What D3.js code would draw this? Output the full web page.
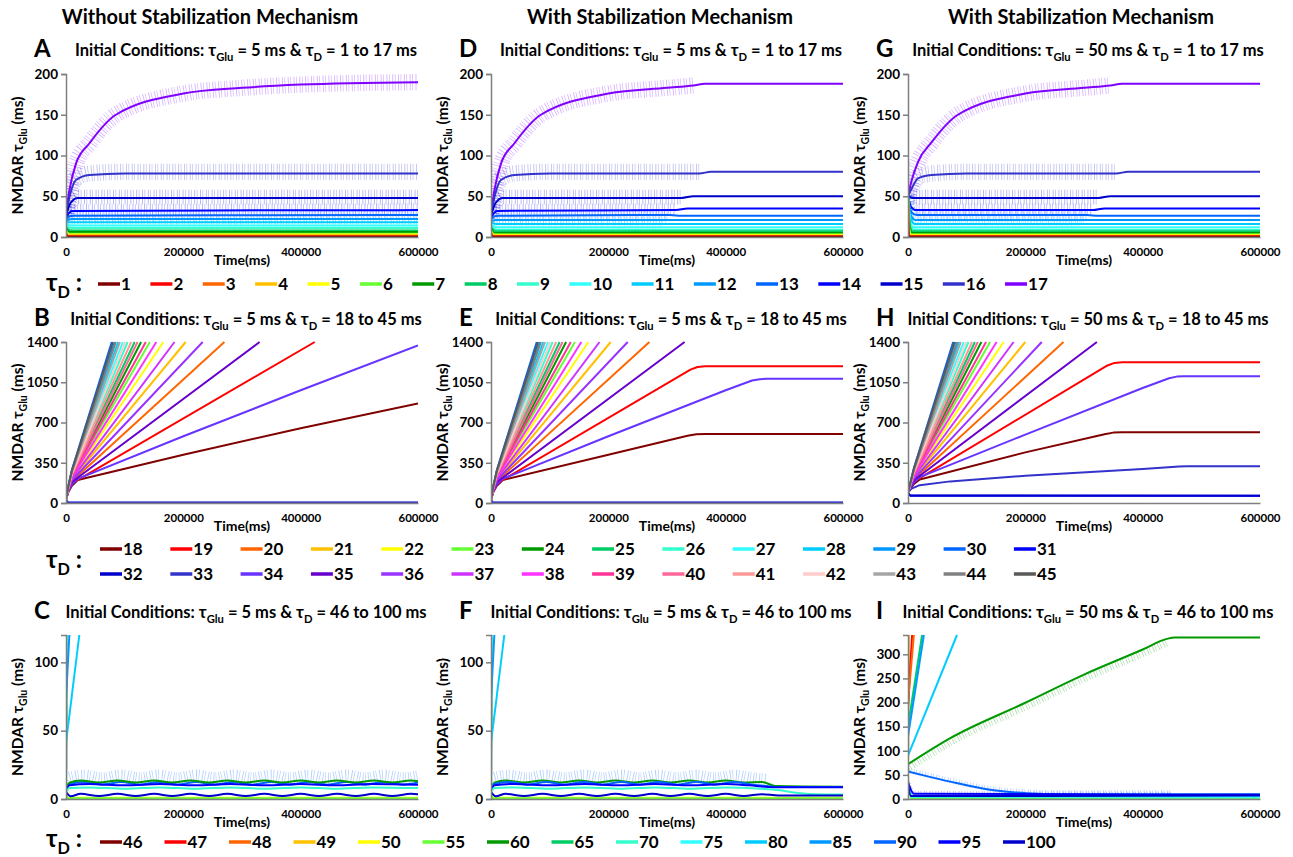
<!DOCTYPE html>
<html>
<head>
<meta charset="utf-8">
<script src="https://cdn.jsdelivr.net/npm/d3@7"></script>
<style>
  body { margin: 0; background: #fff; }
  text { font-family: Lato, "Open Sans", sans-serif; font-weight: bold; fill: #000; white-space: pre; }
</style>
</head>
<body>
<svg id="fig" width="1293" height="857"></svg>
<script>
// legend rows: tau_D values and their colours
const tauRow1 = [1, 2, 3, 4, 5, 6, 7, 8, 9, 10, 11, 12, 13, 14, 15, 16, 17];
const colorsRow1 = ["#800000", "#ff0000", "#ff6600", "#ffc000", "#ffff00", "#66ff33", "#009900", "#00cc66",
  "#33ffcc", "#33ffff", "#00ccff", "#0099ff", "#0066ff", "#0000ff", "#0000cc", "#3333cc", "#7f00ff"];
const tauRow2 = [18, 19, 20, 21, 22, 23, 24, 25, 26, 27, 28, 29, 30, 31, 32, 33, 34, 35, 36, 37, 38, 39, 40, 41, 42, 43, 44, 45];
const colorsRow2 = ["#800000", "#ff0000", "#ff6600", "#ffc000", "#ffff00", "#66ff33", "#009900", "#00cc66",
  "#33ffcc", "#33ffff", "#00ccff", "#0099ff", "#0066ff", "#0000ff", "#0000cc", "#3333cc", "#6633ff", "#6600cc",
  "#9933ff", "#cc33ff", "#ff33ff", "#ff3399", "#ff6699", "#ff9999", "#ffcccc", "#a6a6a6", "#808080", "#595959"];
const tauRow3 = [46, 47, 48, 49, 50, 55, 60, 65, 70, 75, 80, 85, 90, 95, 100];
const colorsRow3 = ["#800000", "#ff0000", "#ff6600", "#ffc000", "#ffff00", "#66ff33", "#009900", "#00cc66",
  "#33ffcc", "#33ffff", "#00ccff", "#0099ff", "#0066ff", "#0000ff", "#0000cc"];

const timeTicks = [0, 200000, 400000, 600000];
const yTicksRow1 = [0, 50, 100, 150, 200];
const yTicksRow2 = [0, 350, 700, 1050, 1400];
const yTicksCF = [0, 50, 100];
const yTicksI = [0, 50, 100, 150, 200, 250, 300];
const columnTitles = ["Without Stabilization Mechanism", "With Stabilization Mechanism", "With Stabilization Mechanism"];

// ---- row 1 : tau_D 1..17 ----
const seriesA = [
  { tau: 17, pts: [[0, 30], [5700, 57], [17000, 90], [40000, 115], [85000, 150], [200000, 176], [300000, 183], [400000, 187], [600000, 190]], noise: [-10, 10], noiseTo: 600000 },
  { tau: 16, pts: [[0, 28], [8000, 55], [17000, 70], [40000, 76], [100000, 78], [600000, 78]], noise: [-8, 12], noiseTo: 600000 },
  { tau: 15, pts: [[0, 26], [8000, 42], [20000, 48], [600000, 48]], noise: [-8, 10], noiseTo: 600000 },
  { tau: 14, pts: [[0, 24], [10000, 32], [600000, 33]], noise: [-7, 8], noiseTo: 600000 },
  { tau: 13, pts: [[0, 22], [10000, 26], [600000, 27]], noise: [-6, 6], noiseTo: 600000 },
  { tau: 12, pts: [[0, 20], [10000, 22], [600000, 22]], noise: [-5, 5], noiseTo: 600000 },
  { tau: 11, pts: [[0, 18], [10000, 18], [600000, 18]], noise: [-4, 4], noiseTo: 600000 },
  { tau: 10, pts: [[0, 16], [10000, 14], [600000, 14]], noise: [-3, 3], noiseTo: 600000 },
  { tau: 9, pts: [[0, 14], [10000, 11], [600000, 11]], noise: [-2, 2], noiseTo: 600000 },
  { tau: 8, pts: [[0, 12], [8000, 8], [600000, 8]], noise: [-2, 2], noiseTo: 600000 },
  { tau: 7, pts: [[0, 10], [6000, 6], [600000, 6]], noise: [-1.5, 1.5], noiseTo: 600000 },
  { tau: 6, pts: [[0, 8], [5000, 4], [600000, 4]], noise: [-1, 1], noiseTo: 600000 },
  { tau: 5, pts: [[0, 7], [5000, 3], [600000, 3]] },
  { tau: 4, pts: [[0, 6], [4000, 2], [600000, 2]] },
  { tau: 3, pts: [[0, 5], [3000, 1], [600000, 1]] },
  { tau: 2, pts: [[0, 5], [2000, 0.6], [600000, 0.6]] },
  { tau: 1, pts: [[0, 5], [1000, 0.2], [600000, 0.2]] }
];
const seriesD = [
  { tau: 17, pts: [[0, 30], [5700, 57], [17000, 90], [40000, 115], [85000, 150], [200000, 176], [300000, 183], [345000, 186], [365000, 188], [600000, 188]], noise: [-10, 10], noiseTo: 345000 },
  { tau: 16, pts: [[0, 28], [8000, 55], [17000, 70], [40000, 76], [100000, 78], [355000, 78], [375000, 80], [600000, 80]], noise: [-8, 12], noiseTo: 355000 },
  { tau: 15, pts: [[0, 26], [8000, 42], [20000, 48], [325000, 48], [345000, 50], [600000, 50]], noise: [-8, 10], noiseTo: 325000 },
  { tau: 14, pts: [[0, 24], [10000, 32], [315000, 33], [335000, 35], [600000, 35]], noise: [-7, 8], noiseTo: 315000 },
  { tau: 13, pts: [[0, 22], [10000, 26], [305000, 27], [325000, 26], [600000, 26]], noise: [-6, 6], noiseTo: 305000 },
  { tau: 12, pts: [[0, 20], [10000, 21], [300000, 21], [600000, 21]], noise: [-5, 5], noiseTo: 300000 },
  { tau: 11, pts: [[0, 18], [10000, 16], [295000, 16], [600000, 16]], noise: [-4, 4], noiseTo: 295000 },
  { tau: 10, pts: [[0, 16], [10000, 12], [290000, 12], [600000, 12]], noise: [-3, 3], noiseTo: 290000 },
  { tau: 9, pts: [[0, 14], [10000, 9], [285000, 9], [600000, 9]], noise: [-2, 2], noiseTo: 285000 },
  { tau: 8, pts: [[0, 12], [8000, 7], [280000, 7], [600000, 7]], noise: [-2, 2], noiseTo: 280000 },
  { tau: 7, pts: [[0, 10], [6000, 5], [280000, 5], [600000, 5]], noise: [-1.5, 1.5], noiseTo: 280000 },
  { tau: 6, pts: [[0, 8], [5000, 3.5], [600000, 3.5]] },
  { tau: 5, pts: [[0, 7], [5000, 2.5], [600000, 2.5]] },
  { tau: 4, pts: [[0, 6], [4000, 1.5], [600000, 1.5]] },
  { tau: 3, pts: [[0, 5], [3000, 1], [600000, 1]] },
  { tau: 2, pts: [[0, 5], [2000, 0.6], [600000, 0.6]] },
  { tau: 1, pts: [[0, 5], [1000, 0.2], [600000, 0.2]] }
];
const seriesG = [
  { tau: 17, pts: [[0, 50], [5700, 68], [17000, 92], [40000, 116], [85000, 150], [200000, 176], [300000, 183], [345000, 186], [365000, 188], [600000, 188]], noise: [-10, 10], noiseTo: 345000 },
  { tau: 16, pts: [[0, 50], [8000, 62], [17000, 72], [40000, 76], [100000, 78], [355000, 78], [375000, 80], [600000, 80]], noise: [-8, 12], noiseTo: 355000 },
  { tau: 15, pts: [[0, 50], [8000, 48], [20000, 48], [325000, 48], [345000, 50], [600000, 50]], noise: [-8, 10], noiseTo: 325000 },
  { tau: 14, pts: [[0, 50], [6000, 36], [15000, 33], [315000, 33], [335000, 35], [600000, 35]], noise: [-7, 8], noiseTo: 315000 },
  { tau: 13, pts: [[0, 50], [6000, 30], [15000, 27], [305000, 27], [325000, 26], [600000, 26]], noise: [-6, 6], noiseTo: 305000 },
  { tau: 12, pts: [[0, 50], [5000, 26], [12000, 21], [300000, 21], [600000, 21]], noise: [-5, 5], noiseTo: 300000 },
  { tau: 11, pts: [[0, 50], [5000, 22], [12000, 16], [295000, 16], [600000, 16]], noise: [-4, 4], noiseTo: 295000 },
  { tau: 10, pts: [[0, 50], [4000, 18], [10000, 12], [290000, 12], [600000, 12]], noise: [-3, 3], noiseTo: 290000 },
  { tau: 9, pts: [[0, 50], [4000, 15], [10000, 9], [285000, 9], [600000, 9]], noise: [-2, 2], noiseTo: 285000 },
  { tau: 8, pts: [[0, 50], [3000, 14], [8000, 7], [280000, 7], [600000, 7]], noise: [-2, 2], noiseTo: 280000 },
  { tau: 7, pts: [[0, 50], [3000, 12], [6000, 5], [280000, 5], [600000, 5]], noise: [-1.5, 1.5], noiseTo: 280000 },
  { tau: 6, pts: [[0, 50], [2500, 10], [5000, 3.5], [600000, 3.5]] },
  { tau: 5, pts: [[0, 50], [2000, 8], [4000, 2.5], [600000, 2.5]] },
  { tau: 4, pts: [[0, 50], [1500, 6], [3000, 1.5], [600000, 1.5]] },
  { tau: 3, pts: [[0, 50], [1200, 4], [2500, 1], [600000, 1]] },
  { tau: 2, pts: [[0, 50], [1000, 3], [2000, 0.6], [600000, 0.6]] },
  { tau: 1, pts: [[0, 50], [800, 2], [1500, 0.2], [600000, 0.2]] }
];

// ---- row 2 : tau_D 18..45 ----
// fast-growing lines, identical in B and E (they leave the plot before the stabilisation kicks in)
const steepBE = [
  { tau: 20, pts: [[0, 30], [4000, 110], [10000, 190], [270000, 1400]] },
  { tau: 21, pts: [[0, 30], [4000, 115], [10000, 205], [204000, 1400]] },
  { tau: 22, pts: [[0, 30], [4000, 120], [10000, 220], [166000, 1400]] },
  { tau: 23, pts: [[0, 30], [4000, 125], [10000, 230], [143000, 1400]] },
  { tau: 24, pts: [[0, 30], [4000, 128], [10000, 238], [128000, 1400]] },
  { tau: 25, pts: [[0, 30], [4000, 131], [10000, 246], [117000, 1400]] },
  { tau: 26, pts: [[0, 30], [4000, 134], [10000, 254], [105000, 1400]] },
  { tau: 27, pts: [[0, 30], [4000, 137], [10000, 262], [97000, 1400]] },
  { tau: 28, pts: [[0, 30], [4000, 140], [10000, 270], [89000, 1400]] },
  { tau: 29, pts: [[0, 30], [4000, 143], [10000, 278], [83000, 1400]] },
  { tau: 30, pts: [[0, 30], [4000, 146], [10000, 286], [78000, 1400]] },
  { tau: 31, pts: [[0, 25], [3000, 2], [600000, 2]] },
  { tau: 32, pts: [[0, 25], [3000, 2], [600000, 2]] },
  { tau: 33, pts: [[0, 25], [3000, 3], [600000, 3]] },
  { tau: 35, pts: [[0, 30], [4000, 108], [10000, 182], [330000, 1400]] },
  { tau: 36, pts: [[0, 30], [4000, 112], [10000, 198], [233000, 1400]] },
  { tau: 37, pts: [[0, 30], [4000, 118], [10000, 212], [185000, 1400]] },
  { tau: 38, pts: [[0, 30], [4000, 122], [10000, 225], [154000, 1400]] },
  { tau: 39, pts: [[0, 30], [4000, 126], [10000, 234], [136000, 1400]] },
  { tau: 40, pts: [[0, 30], [4000, 130], [10000, 242], [122000, 1400]] },
  { tau: 41, pts: [[0, 30], [4000, 133], [10000, 250], [111000, 1400]] },
  { tau: 42, pts: [[0, 30], [4000, 136], [10000, 258], [101000, 1400]] },
  { tau: 43, pts: [[0, 30], [4000, 139], [10000, 266], [92000, 1400]] },
  { tau: 44, pts: [[0, 30], [4000, 142], [10000, 274], [85000, 1400]] },
  { tau: 45, pts: [[0, 30], [4000, 145], [10000, 282], [80000, 1400]] }
];
const slowB = [
  { tau: 18, pts: [[0, 30], [4000, 95], [10000, 150], [20000, 200], [200000, 420], [400000, 650], [600000, 866]] },
  { tau: 19, pts: [[0, 30], [4000, 105], [10000, 170], [424000, 1400]] },
  { tau: 34, pts: [[0, 30], [4000, 100], [10000, 160], [20000, 210], [200000, 580], [400000, 980], [600000, 1371]] }
];
const slowE = [
  { tau: 18, pts: [[0, 30], [4000, 95], [10000, 150], [20000, 200], [200000, 420], [335000, 585], [350000, 597], [365000, 600], [600000, 600]] },
  { tau: 19, pts: [[0, 30], [4000, 105], [10000, 170], [340000, 1160], [352000, 1183], [365000, 1190], [600000, 1190]] },
  { tau: 34, pts: [[0, 30], [4000, 100], [10000, 160], [20000, 210], [200000, 580], [400000, 980], [445000, 1065], [458000, 1077], [470000, 1080], [600000, 1080]] }
];
const seriesH = [
  { tau: 18, pts: [[0, 85], [4000, 125], [10000, 165], [20000, 205], [200000, 440], [335000, 598], [350000, 612], [365000, 615], [600000, 615]] },
  { tau: 19, pts: [[0, 85], [4000, 135], [10000, 185], [340000, 1196], [352000, 1218], [365000, 1224], [600000, 1224]] },
  { tau: 20, pts: [[0, 85], [4000, 140], [10000, 205], [265000, 1400]] },
  { tau: 21, pts: [[0, 85], [4000, 145], [10000, 220], [200000, 1400]] },
  { tau: 22, pts: [[0, 85], [4000, 150], [10000, 235], [163000, 1400]] },
  { tau: 23, pts: [[0, 85], [4000, 155], [10000, 245], [140000, 1400]] },
  { tau: 24, pts: [[0, 85], [4000, 158], [10000, 253], [125000, 1400]] },
  { tau: 25, pts: [[0, 85], [4000, 161], [10000, 261], [114000, 1400]] },
  { tau: 26, pts: [[0, 85], [4000, 164], [10000, 269], [103000, 1400]] },
  { tau: 27, pts: [[0, 85], [4000, 167], [10000, 277], [95000, 1400]] },
  { tau: 28, pts: [[0, 85], [4000, 170], [10000, 285], [87000, 1400]] },
  { tau: 29, pts: [[0, 85], [4000, 173], [10000, 293], [81000, 1400]] },
  { tau: 30, pts: [[0, 85], [4000, 176], [10000, 301], [77000, 1400]] },
  { tau: 31, pts: [[0, 85], [4000, 64], [600000, 62]] },
  { tau: 32, pts: [[0, 85], [4000, 66], [600000, 63]] },
  { tau: 33, pts: [[0, 92], [6000, 125], [20000, 155], [72000, 188], [200000, 237], [400000, 295], [450000, 313], [462000, 318], [475000, 320], [600000, 320]] },
  { tau: 34, pts: [[0, 85], [4000, 130], [10000, 178], [20000, 225], [200000, 595], [400000, 1000], [445000, 1085], [458000, 1099], [470000, 1103], [600000, 1103]] },
  { tau: 35, pts: [[0, 85], [4000, 138], [10000, 198], [322000, 1400]] },
  { tau: 36, pts: [[0, 85], [4000, 142], [10000, 212], [228000, 1400]] },
  { tau: 37, pts: [[0, 85], [4000, 148], [10000, 228], [180000, 1400]] },
  { tau: 38, pts: [[0, 85], [4000, 152], [10000, 240], [151000, 1400]] },
  { tau: 39, pts: [[0, 85], [4000, 156], [10000, 249], [133000, 1400]] },
  { tau: 40, pts: [[0, 85], [4000, 159], [10000, 257], [119000, 1400]] },
  { tau: 41, pts: [[0, 85], [4000, 162], [10000, 265], [109000, 1400]] },
  { tau: 42, pts: [[0, 85], [4000, 165], [10000, 273], [99000, 1400]] },
  { tau: 43, pts: [[0, 85], [4000, 168], [10000, 281], [90000, 1400]] },
  { tau: 44, pts: [[0, 85], [4000, 171], [10000, 289], [84000, 1400]] },
  { tau: 45, pts: [[0, 85], [4000, 174], [10000, 297], [79000, 1400]] }
];

// ---- row 3 : tau_D 46..100 ----
const seriesC = [
  { tau: 46, pts: [[0, 5], [400, 120]] },
  { tau: 47, pts: [[0, 5], [600, 120]] },
  { tau: 48, pts: [[0, 40], [1500, 120]] },
  { tau: 49, pts: [[0, 5], [800, 120]] },
  { tau: 50, pts: [[0, 5], [3000, 1], [600000, 1]] },
  { tau: 55, pts: [[0, 5], [3000, 0.5], [600000, 0.5]] },
  { tau: 65, pts: [[0, 5], [1000, 120]] },
  { tau: 75, pts: [[0, 5], [1500, 120]] },
  { tau: 80, pts: [[0, 41], [22700, 120]] },
  { tau: 85, pts: [[0, 73], [5700, 120]] },
  { tau: 90, pts: [[0, 8], [6000, 11], [30000, 12.5], [62000, 10.5], [94000, 12.5], [126000, 10.5], [158000, 12.5], [190000, 10.5], [222000, 12.5], [254000, 10.5], [286000, 12.5], [318000, 10.5], [350000, 12.5], [382000, 10.5], [414000, 12.5], [446000, 10.5], [478000, 12.5], [510000, 10.5], [542000, 12.5], [574000, 10.5], [600000, 12]], noise: [-1, 9], noiseTo: 600000 },
  { tau: 60, pts: [[0, 8], [6000, 12], [25000, 13.5], [56000, 12], [88000, 13.5], [119000, 12], [150000, 13.5], [181000, 12], [212000, 13.5], [244000, 12], [275000, 13.5], [306000, 12], [338000, 13.5], [369000, 12], [400000, 13.5], [431000, 12], [462000, 13.5], [494000, 12], [525000, 13.5], [556000, 12], [588000, 13.5], [600000, 13]] },
  { tau: 95, pts: [[0, 6], [6000, 10], [40000, 11], [100000, 10], [160000, 11], [220000, 10], [280000, 11], [340000, 10], [400000, 11], [460000, 10], [520000, 11], [600000, 10.5]] },
  { tau: 70, pts: [[0, 5], [6000, 8], [40000, 8.5], [100000, 7.5], [160000, 8.5], [220000, 7.5], [280000, 8.5], [340000, 7.5], [400000, 8.5], [460000, 7.5], [520000, 8.5], [600000, 8]] },
  { tau: 100, pts: [[0, 5], [8000, 2], [25000, 3.8], [56000, 2.2], [88000, 3.8], [119000, 2.2], [150000, 3.8], [181000, 2.2], [212000, 3.8], [244000, 2.2], [275000, 3.8], [306000, 2.2], [338000, 3.8], [369000, 2.2], [400000, 3.8], [431000, 2.2], [462000, 3.8], [494000, 2.2], [525000, 3.8], [556000, 2.2], [588000, 3.8], [600000, 3.5]] }
];
const seriesF = [
  { tau: 46, pts: [[0, 5], [400, 120]] },
  { tau: 47, pts: [[0, 5], [600, 120]] },
  { tau: 48, pts: [[0, 40], [1500, 120]] },
  { tau: 49, pts: [[0, 5], [800, 120]] },
  { tau: 50, pts: [[0, 5], [3000, 1], [600000, 1]] },
  { tau: 55, pts: [[0, 5], [3000, 0.5], [600000, 0.5]] },
  { tau: 65, pts: [[0, 5], [1000, 120]] },
  { tau: 75, pts: [[0, 5], [1500, 120]] },
  { tau: 80, pts: [[0, 41], [22700, 120]] },
  { tau: 85, pts: [[0, 73], [5700, 120]] },
  { tau: 60, pts: [[0, 8], [6000, 12], [25000, 13.5], [56000, 12], [88000, 13.5], [119000, 12], [150000, 13.5], [181000, 12], [212000, 13.5], [244000, 12], [275000, 13.5], [306000, 12], [338000, 13.5], [369000, 12], [400000, 13.5], [431000, 12], [462000, 12.5], [485000, 9.5], [600000, 9]] },
  { tau: 90, pts: [[0, 8], [6000, 11], [30000, 12.5], [62000, 10.5], [94000, 12.5], [126000, 10.5], [158000, 12.5], [190000, 10.5], [222000, 12.5], [254000, 10.5], [286000, 12.5], [318000, 10.5], [350000, 12.5], [382000, 10.5], [414000, 12.5], [446000, 10.5], [470000, 9.5], [490000, 8.8], [600000, 8.8]], noise: [-1, 9], noiseTo: 470000 },
  { tau: 95, pts: [[0, 6], [6000, 10], [40000, 11], [100000, 10], [160000, 11], [220000, 10], [280000, 11], [340000, 10], [400000, 11], [440000, 10], [480000, 8.6], [600000, 8.6]] },
  { tau: 70, pts: [[0, 5], [6000, 8], [40000, 8.5], [100000, 7.5], [160000, 8.5], [220000, 7.5], [280000, 8.5], [340000, 7.5], [400000, 8.5], [460000, 7.5], [490000, 6.5], [520000, 4.5], [550000, 3.5], [600000, 3.3]] },
  { tau: 100, pts: [[0, 5], [8000, 2], [25000, 3.8], [56000, 2.2], [88000, 3.8], [119000, 2.2], [150000, 3.8], [181000, 2.2], [212000, 3.8], [244000, 2.2], [275000, 3.8], [306000, 2.2], [338000, 3.8], [369000, 2.2], [400000, 3.8], [431000, 2.2], [462000, 3.5], [490000, 2.6], [600000, 2.6]] }
];
const seriesI = [
  { tau: 46, pts: [[0, 50], [500, 340]] },
  { tau: 49, pts: [[0, 60], [1000, 340]] },
  { tau: 47, pts: [[0, 190], [7000, 340]] },
  { tau: 48, pts: [[0, 200], [10000, 340]] },
  { tau: 60, pts: [[0, 72], [72000, 126], [199000, 199], [300000, 258], [400000, 310], [441000, 332], [455000, 335], [600000, 335]], noise: [-16, 0], noiseTo: 441000 },
  { tau: 65, pts: [[0, 150], [24000, 340]] },
  { tau: 85, pts: [[0, 130], [27000, 340]] },
  { tau: 80, pts: [[0, 90], [83500, 340]] },
  { tau: 50, pts: [[0, 40], [6000, 8], [15000, 3], [600000, 3]] },
  { tau: 55, pts: [[0, 35], [5000, 2], [600000, 1]] },
  { tau: 70, pts: [[0, 30], [6000, 4], [600000, 3]] },
  { tau: 75, pts: [[0, 35], [8000, 6], [600000, 5]] },
  { tau: 90, pts: [[0, 57], [30000, 48], [72000, 36], [140000, 19], [203000, 12], [260000, 10], [450000, 10], [600000, 10]], noise: [-3, 8], noiseTo: 450000 },
  { tau: 95, pts: [[0, 35], [10000, 11], [450000, 9], [600000, 9]], noise: [-2, 6], noiseTo: 450000 },
  { tau: 100, pts: [[0, 30], [5000, 6], [600000, 7]] }
];

// ---- layout ----
const colX = [[66, 418], [491, 843], [908, 1260]];
const rowY = [[74, 237], [342, 503], [635, 799]];
const subtitleY = [56, 325, 618];
const colTitleX = [210, 660, 1081];

const panels = [
  { key: "A", col: 0, row: 0, series: seriesA, taus: tauRow1, colors: colorsRow1, yDomain: [0, 200], yTicks: yTicksRow1, glu: 5, range: "1 to 17" },
  { key: "D", col: 1, row: 0, series: seriesD, taus: tauRow1, colors: colorsRow1, yDomain: [0, 200], yTicks: yTicksRow1, glu: 5, range: "1 to 17" },
  { key: "G", col: 2, row: 0, series: seriesG, taus: tauRow1, colors: colorsRow1, yDomain: [0, 200], yTicks: yTicksRow1, glu: 50, range: "1 to 17" },
  { key: "B", col: 0, row: 1, series: [...slowB, ...steepBE], taus: tauRow2, colors: colorsRow2, yDomain: [0, 1400], yTicks: yTicksRow2, glu: 5, range: "18 to 45", linear: true },
  { key: "E", col: 1, row: 1, series: [...slowE, ...steepBE], taus: tauRow2, colors: colorsRow2, yDomain: [0, 1400], yTicks: yTicksRow2, glu: 5, range: "18 to 45", linear: true },
  { key: "H", col: 2, row: 1, series: seriesH, taus: tauRow2, colors: colorsRow2, yDomain: [0, 1400], yTicks: yTicksRow2, glu: 50, range: "18 to 45", linear: true },
  { key: "C", col: 0, row: 2, series: seriesC, taus: tauRow3, colors: colorsRow3, yDomain: [0, 120], yTicks: yTicksCF, glu: 5, range: "46 to 100" },
  { key: "F", col: 1, row: 2, series: seriesF, taus: tauRow3, colors: colorsRow3, yDomain: [0, 120], yTicks: yTicksCF, glu: 5, range: "46 to 100" },
  { key: "I", col: 2, row: 2, series: seriesI, taus: tauRow3, colors: colorsRow3, yDomain: [0, 340], yTicks: yTicksI, glu: 50, range: "46 to 100" }
];

const svg = d3.select("#fig");
const defs = svg.append("defs");

// text with subscripts: parts = [[string, isSub], ...]
const richText = (g, x, y, parts, size, anchor) => {
  const t = g.append("text").attr("x", x).attr("y", y)
    .attr("font-size", size).attr("text-anchor", anchor || "start");
  let low = false;
  for (let [s, sub] of parts) {
    const ts = t.append("tspan").text(s);
    if (sub) {
      ts.attr("font-size", size * 0.68);
      if (!low) {
        ts.attr("dy", size * 0.28);
        low = true;
      }
    } else if (low) {
      ts.attr("dy", -size * 0.28);
      low = false;
    }
  }
  return t;
};

// column titles
columnTitles.forEach((title, i) => {
  svg.append("text").attr("x", colTitleX[i]).attr("y", 24)
    .attr("text-anchor", "middle").attr("font-size", 20).text(title);
});

const drawPanel = (p) => {
  const [x0, x1] = colX[p.col];
  const [y0, y1] = rowY[p.row];
  const x = d3.scaleLinear().domain([0, 600000]).range([x0, x1]);
  const y = d3.scaleLinear().domain(p.yDomain).range([y1, y0]);
  const colorOf = (tau) => p.colors[p.taus.indexOf(tau)];
  const curve = p.linear ? d3.curveLinear : d3.curveMonotoneX;

  defs.append("clipPath").attr("id", "clip" + p.key)
    .append("rect").attr("x", x0).attr("y", y0 - 1).attr("width", x1 - x0).attr("height", y1 - y0 + 1);

  const g = svg.append("g");
  const plot = g.append("g").attr("clip-path", `url(#clip${p.key})`);

  // noisy envelope: thick dashed stroke gives thin vertical spikes
  p.series.filter((s) => s.noise).forEach((s) => {
    const [lo, hi] = s.noise;
    const mid = (lo + hi) / 2;
    const pts = s.pts.filter((d) => d[0] <= s.noiseTo);
    const line = d3.line().x((d) => x(d[0])).y((d) => y(d[1] + mid)).curve(curve);
    plot.append("path")
      .attr("d", line(pts))
      .attr("fill", "none")
      .attr("stroke", colorOf(s.tau))
      .attr("stroke-opacity", 0.3)
      .attr("stroke-width", Math.abs(y(0) - y(hi - lo)))
      .attr("stroke-dasharray", "0.9,1.6,0.7,2.6");
  });

  const line = d3.line().x((d) => x(d[0])).y((d) => y(d[1])).curve(curve);
  plot.selectAll(".series")
    .data(p.series)
    .join("path")
    .attr("d", (s) => line(s.pts))
    .attr("fill", "none")
    .attr("stroke", (s) => colorOf(s.tau))
    .attr("stroke-width", 2)
    .attr("stroke-linejoin", "round");

  // axes
  g.append("g")
    .attr("transform", `translate(${x0},0)`)
    .call(d3.axisLeft(y).tickValues(p.yTicks).tickSize(5).tickPadding(3).tickFormat(d3.format("d")))
    .call((a) => a.selectAll("path,line").attr("stroke", "#7f7f7f").attr("stroke-width", 1.5))
    .call((a) => a.selectAll("text").attr("font-size", 13.5).attr("fill", "#000")
      .style("font-family", "Lato, sans-serif").style("font-weight", "bold"));

  g.append("g")
    .attr("transform", `translate(0,${y1})`)
    .call(d3.axisBottom(x).tickValues(timeTicks).tickSize(0).tickPadding(11).tickFormat(d3.format("d")))
    .call((a) => a.selectAll("path").attr("stroke", "#7f7f7f").attr("stroke-width", 1.5))
    .call((a) => a.selectAll("text").attr("font-size", 11.5).attr("fill", "#000")
      .style("font-family", "Lato, sans-serif").style("font-weight", "bold"));

  g.append("text").attr("x", (x0 + x1) / 2).attr("y", y1 + 28)
    .attr("text-anchor", "middle").attr("font-size", 14).text("Time(ms)");

  richText(g, 0, 0, [["NMDAR τ", false], ["Glu", true], [" (ms)", false]], 15.5, "middle")
    .attr("transform", `translate(${x0 - 43},${(y0 + y1) / 2}) rotate(-90)`);

  // panel letter + initial condition subtitle
  g.append("text").attr("x", x0 - 32).attr("y", subtitleY[p.row] + 1)
    .attr("font-size", 24).text(p.key);
  richText(g, (x0 + x1) / 2 + 4, subtitleY[p.row],
    [["Initial Conditions: τ", false], ["Glu", true], [` = ${p.glu} ms & τ`, false], ["D", true], [` = ${p.range} ms`, false]],
    16.5, "middle");
};

panels.forEach(drawPanel);

// legends
const legendLabel = (yc) => richText(svg, 46, yc + 7, [["τ", false], ["D", true], [" :", false]], 24);

const legendItem = (x, yc, tau, color) => {
  svg.append("line").attr("x1", x).attr("x2", x + 22).attr("y1", yc).attr("y2", yc)
    .attr("stroke", color).attr("stroke-width", 3.5);
  return svg.append("text").attr("x", x + 23).attr("y", yc + 6).attr("font-size", 17).text(tau);
};

// row 1: items flow by label width
legendLabel(284);
let lx = 98;
tauRow1.forEach((tau, i) => {
  const t = legendItem(lx, 284, tau, colorsRow1[i]);
  lx += 23 + t.node().getComputedTextLength() + 19.5;
});

// row 2: two lines of 14
legendLabel(561);
tauRow2.forEach((tau, i) => {
  legendItem(100 + (i % 14) * 70.3, i < 14 ? 549 : 574, tau, colorsRow2[i]);
});

// row 3
legendLabel(840);
tauRow3.forEach((tau, i) => {
  legendItem(100 + i * 64.5, 842, tau, colorsRow3[i]);
});
</script>
</body>
</html>
